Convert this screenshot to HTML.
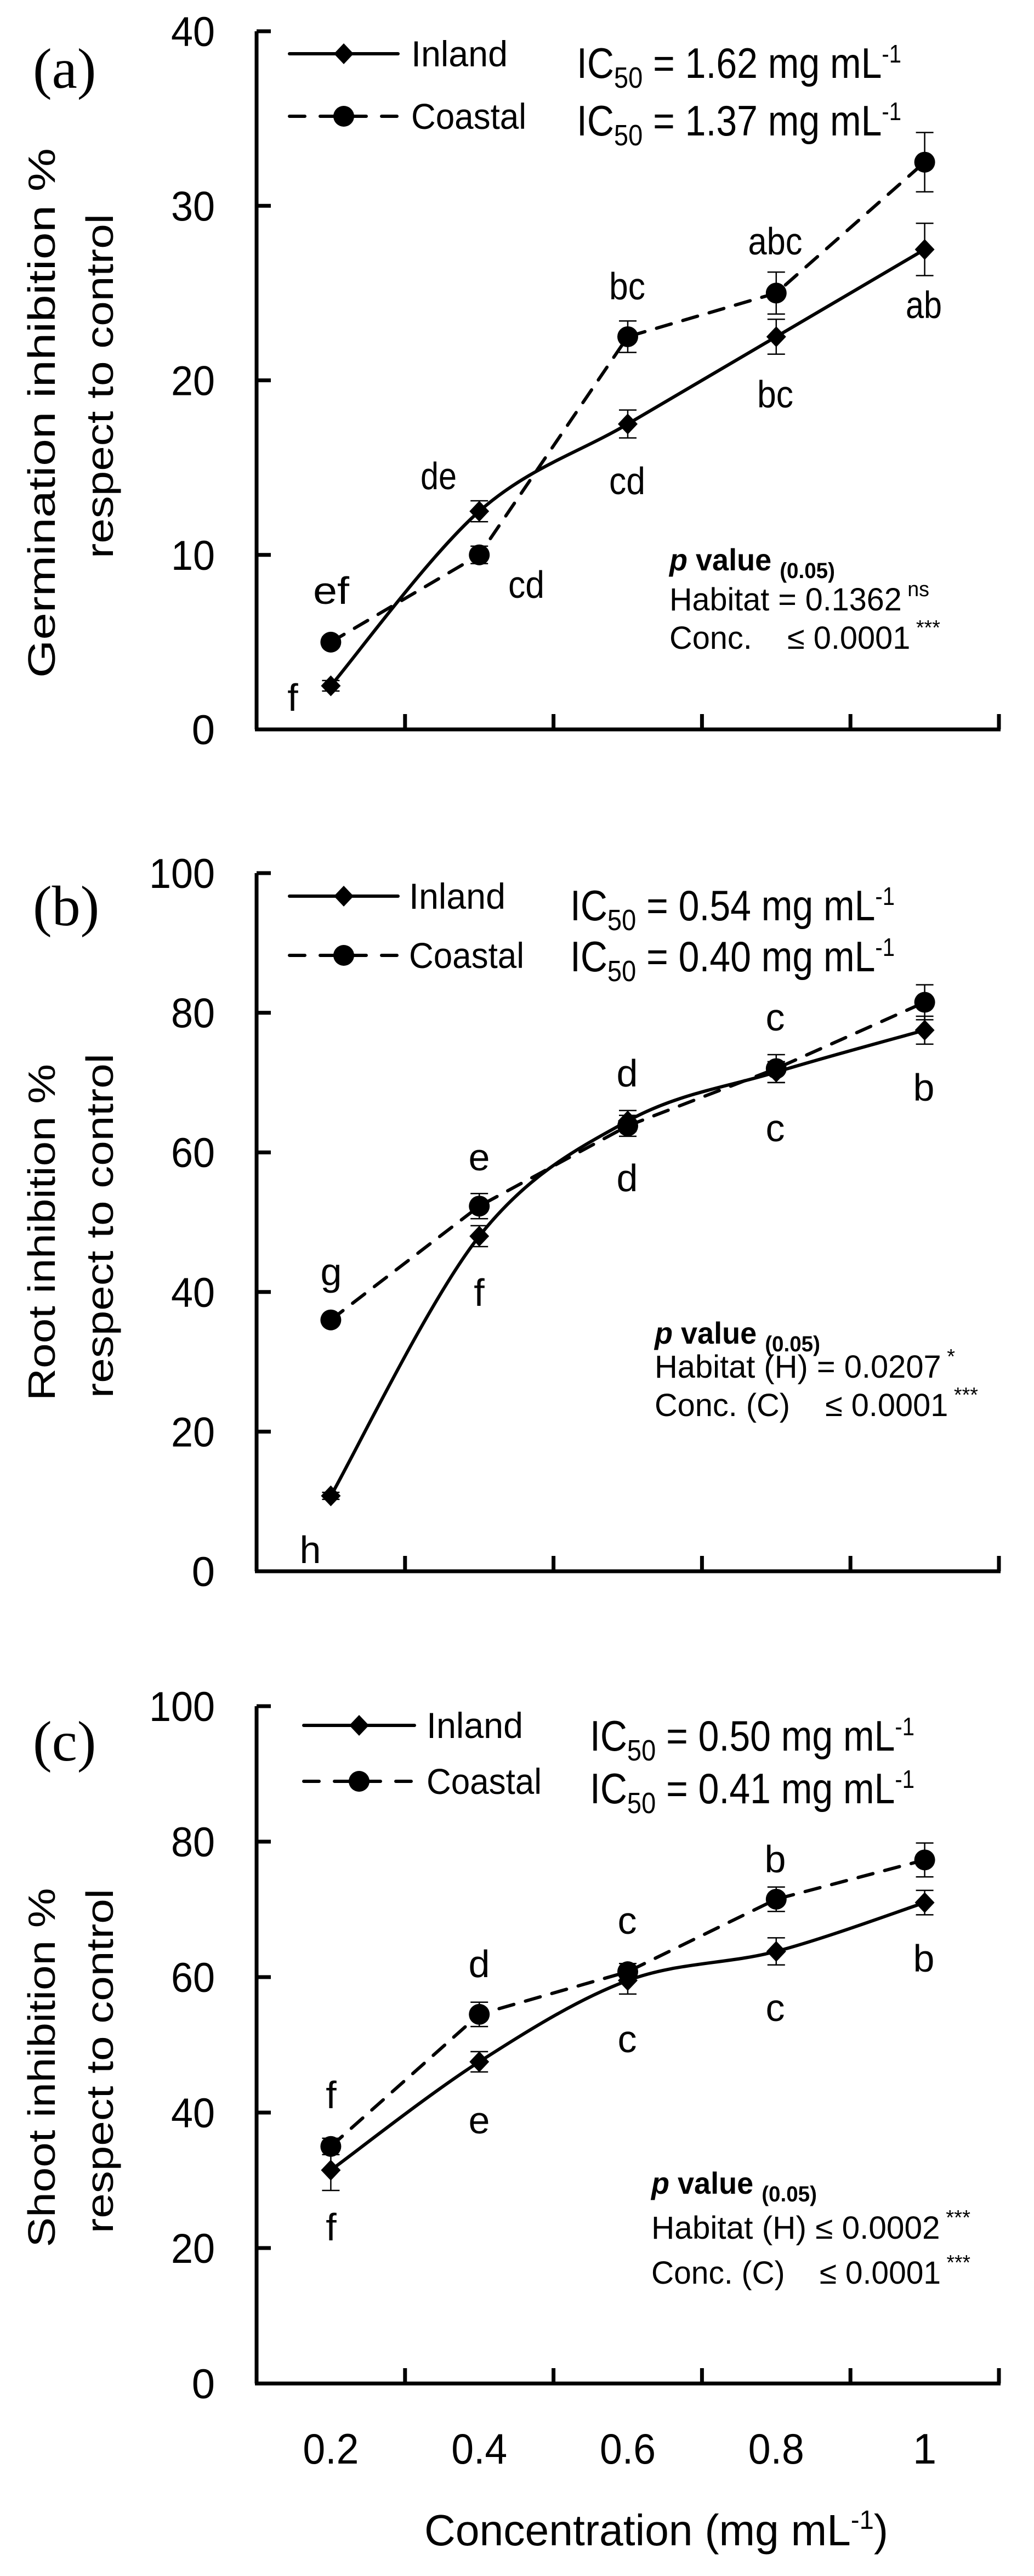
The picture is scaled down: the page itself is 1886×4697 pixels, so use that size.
<!DOCTYPE html>
<html><head><meta charset="utf-8">
<style>
html,body{margin:0;padding:0;background:#fff;}
svg{display:block;}
text{font-family:"Liberation Sans Narrow","Liberation Sans",sans-serif;fill:#000;}
.wide{font-family:"Liberation Sans",sans-serif;}
.serif{font-family:"Liberation Serif",serif;}
</style></head>
<body>
<svg id="fig" width="1886" height="4697" viewBox="0 0 1886 4697" xmlns="http://www.w3.org/2000/svg"></svg>
<script>
// ---------- data ----------
const categories = ["0.2","0.4","0.6","0.8","1"];
// Panel (a) germination
const aInland = [2.5, 12.5, 17.5, 22.5, 27.5];
const aInlandErr = [0.3, 0.6, 0.8, 1.0, 1.5];
const aCoastal = [5, 10, 22.5, 25, 32.5];
const aCoastalErr = [0.3, 0.5, 0.9, 1.2, 1.7];
const aTicks = [0, 10, 20, 30, 40];
// Panel (b) root
const bInland = [10.8, 48, 64.5, 71.5, 77.5];
const bInlandErr = [0.5, 1.5, 1.5, 1.5, 2.0];
const bCoastal = [36, 52.3, 63.8, 72, 81.5];
const bCoastalErr = [0.6, 1.8, 1.5, 2.0, 2.5];
const bTicks = [0, 20, 40, 60, 80, 100];
// Panel (c) shoot
const cInland = [31.5, 47.5, 59.5, 63.8, 71];
const cInlandErr = [3.0, 1.5, 2.0, 2.0, 1.8];
const cCoastal = [35, 54.5, 60.8, 71.5, 77.3];
const cCoastalErr = [1.2, 1.8, 1.2, 1.8, 2.5];
const cTicks = [0, 20, 40, 60, 80, 100];

const NS = "http://www.w3.org/2000/svg";
const svg = document.getElementById('fig');
function mk(tag, attrs, parent){
  const e = document.createElementNS(NS, tag);
  for (const k in attrs) e.setAttribute(k, attrs[k]);
  (parent||svg).appendChild(e);
  return e;
}
const X0 = 468, X1 = 1822;
function xScale(i){ return X0 + (X1 - X0) * (i + 0.5) / categories.length; }

function smoothPath(pts){
  let d = `M${pts[0][0]},${pts[0][1]}`;
  for (let i = 0; i < pts.length - 1; i++){
    const p0 = pts[Math.max(0,i-1)], p1 = pts[i], p2 = pts[i+1], p3 = pts[Math.min(pts.length-1,i+2)];
    const t = 1/6;
    const c1 = [p1[0] + (p2[0]-p0[0])*t, p1[1] + (p2[1]-p0[1])*t];
    const c2 = [p2[0] - (p3[0]-p1[0])*t, p2[1] - (p3[1]-p1[1])*t];
    d += ` C${c1[0]},${c1[1]} ${c2[0]},${c2[1]} ${p2[0]},${p2[1]}`;
  }
  return d;
}
function straightPath(pts){
  return pts.map((p,i)=>(i?'L':'M')+p[0]+','+p[1]).join(' ');
}

function panel(cfg){
  const g = mk('g', {});
  
  
  const yMax = cfg.ticks[cfg.ticks.length-1];
  const yScale = v => cfg.y0 - (cfg.y0 - cfg.yTop) * v / yMax;

  const ya = mk('line', {x1:X0, y1:yScale(yMax), x2:X0, y2:cfg.y0, stroke:'#000','stroke-width':7}, g);
  
  
  const xa = mk('line', {x1:X0-3, y1:cfg.y0, x2:X1+3, y2:cfg.y0, stroke:'#000','stroke-width':7}, g);
  
  
  cfg.ticks.forEach(t => {
    const y = yScale(t);
    mk('line', {x1:X0, y1:y, x2:X0+26, y2:y, stroke:'#000','stroke-width':7}, g);
    const tl = mk('text', {x:392, y:y+27, 'text-anchor':'end','font-size':76}, g);
    if (String(t).length > 1) { tl.setAttribute('textLength', String(t).length*40); tl.setAttribute('lengthAdjust','spacingAndGlyphs'); }
    tl.textContent = t;
    
    
  });
  for (let i = 0; i <= categories.length; i++){
    const x = X0 + (X1-X0)*i/categories.length;
    mk('line', {x1:x, y1:cfg.y0, x2:x, y2:cfg.y0-28, stroke:'#000','stroke-width':7}, g);
  }

  const series = [
    {name:'inland', v:cfg.inland, e:cfg.inlandErr, dash:null, marker:'diamond', smooth:true},
    {name:'coastal', v:cfg.coastal, e:cfg.coastalErr, dash:'28 22', marker:'circle', smooth:false}
  ];
  series.forEach(s => {
    const pts = s.v.map((v,i) => [xScale(i), yScale(v)]);
    const p = mk('path', {d:s.smooth?smoothPath(pts):straightPath(pts), fill:'none', stroke:'#000','stroke-width':6,'stroke-linecap':'round','stroke-linejoin':'round'}, g);
    if (s.dash) p.setAttribute('stroke-dasharray', s.dash);
    
    
    s.v.forEach((v,i) => {
      const x = xScale(i), y = yScale(v), yh = yScale(v + s.e[i]), yl = yScale(v - s.e[i]);
      const eb = mk('path', {d:`M${x},${yh}V${yl}M${x-16},${yh}H${x+16}M${x-16},${yl}H${x+16}`, stroke:'#000','stroke-width':2.5, fill:'none'}, g);
      
      
      let m;
      if (s.marker === 'circle') m = mk('circle', {cx:x, cy:y, r:19}, g);
      else m = mk('path', {d:`M${x},${y-19}L${x+18},${y}L${x},${y+19}L${x-18},${y}Z`}, g);
      
      
    });
  });

  cfg.letters.forEach(L => {
    const t = mk('text', {x:L[1], y:L[2], 'text-anchor':'middle','font-size':70}, g);
    if (L[0].length > 1) { t.setAttribute('textLength', L[0].length*33); t.setAttribute('lengthAdjust','spacingAndGlyphs'); }
    t.textContent = L[0];
    
    
  });

  const lg = mk('g', {}, g);
  
  
  const L = cfg.legend;
  mk('line', {x1:L.x1, y1:L.yi, x2:L.x2, y2:L.yi, stroke:'#000','stroke-width':6,'stroke-linecap':'round'}, lg);
  const lx = (L.x1+L.x2)/2;
  mk('path', {d:`M${lx},${L.yi-19}L${lx+18},${L.yi}L${lx},${L.yi+19}L${lx-18},${L.yi}Z`}, lg);
  mk('line', {x1:L.x1, y1:L.yc, x2:L.x2, y2:L.yc, stroke:'#000','stroke-width':6,'stroke-linecap':'round','stroke-dasharray':'28 28'}, lg);
  mk('circle', {cx:lx, cy:L.yc, r:19}, lg);
  const t1 = mk('text', {x:L.tx, y:L.yi+23, 'font-size':66, textLength:176, lengthAdjust:'spacingAndGlyphs'}, lg);
  t1.textContent = 'Inland';
  
  
  const t2 = mk('text', {x:L.tx, y:L.yc+23, 'font-size':66, textLength:210, lengthAdjust:'spacingAndGlyphs'}, lg);
  t2.textContent = 'Coastal';
  
  

  cfg.ic.forEach((ic, k) => {
    const t = mk('text', {x:cfg.icx, y:cfg.icy[k], 'font-size':78, textLength:592, lengthAdjust:'spacingAndGlyphs'}, g);
    t.innerHTML = `IC<tspan font-size="54" dy="18">50</tspan><tspan dy="-18"> = ${ic} mg mL</tspan><tspan font-size="46" dy="-28">-1</tspan>`;
    
    
  });

  const pv = cfg.pval;
  const p1 = mk('text', {x:pv.x, y:pv.y[0], 'font-size':56,'font-weight':'bold', textLength:302, lengthAdjust:'spacingAndGlyphs'}, g);
  p1.innerHTML = `<tspan font-style="italic">p</tspan> value <tspan font-size="40" dy="14">(0.05)</tspan>`;
  
  
  pv.lines.forEach((ln, k) => {
    const t = mk('text', {x:pv.x, y:pv.y[k+1], 'font-size':58, textLength:ln[2], lengthAdjust:'spacingAndGlyphs'}, g);
    t.innerHTML = `${ln[0]}<tspan font-size="38" dy="-26"> ${ln[1]}</tspan>`;
    
    
  });

  const yt1 = mk('text', {x:0, y:0, 'text-anchor':'middle','font-size':70, class:'wide', transform:`translate(${cfg.yt[0]},${cfg.yt[2]}) rotate(-90)`, textLength:cfg.yt[3], lengthAdjust:'spacingAndGlyphs'}, g);
  yt1.setAttribute('xml:space','preserve');
  yt1.textContent = cfg.ytitle;
  
  
  const yt2 = mk('text', {x:0, y:0, 'text-anchor':'middle','font-size':70, class:'wide', transform:`translate(${cfg.yt[1]},${cfg.yt[4]}) rotate(-90)`, textLength:628, lengthAdjust:'spacingAndGlyphs'}, g);
  yt2.textContent = 'respect to control';
  
  

  const pl = mk('text', {x:60, y:cfg.labelY, 'font-size':104, class:'serif'}, g);
  pl.textContent = cfg.label;
  
  
}

panel({name:'panel-a-germination', y0:1330, yTop:57, ticks:aTicks,
  inland:aInland, inlandErr:aInlandErr, coastal:aCoastal, coastalErr:aCoastalErr,
  letters:[['f',534,1296],['de',800,892],['cd',1144,901],['bc',1414,743],['ab',1685,580],
           ['ef',604,1101],['cd',960,1090],['bc',1144,546],['abc',1414,464]],
  legend:{x1:528,x2:726,tx:750,yi:98,yc:212},
  ic:['1.62','1.37'], icx:1052, icy:[142,247],
  pval:{x:1221,y:[1040,1113,1183],lines:[['Habitat = 0.1362','ns',474],['Conc. \u00a0\u00a0\u00a0≤ 0.0001','***',494]]},
  ytitle:'Germination  inhibition %', yt:[100,206,753,966,704],
  label:'(a)', labelY:160});

panel({name:'panel-b-root', y0:2865, yTop:1592, ticks:bTicks,
  inland:bInland, inlandErr:bInlandErr, coastal:bCoastal, coastalErr:bCoastalErr,
  letters:[['g',604,2343],['e',874,2134],['f',874,2381],['d',1144,1981],['d',1144,2172],
           ['c',1414,1879],['c',1414,2081],['b',1685,2007],['h',566,2850]],
  legend:{x1:528,x2:726,tx:746,yi:1634,yc:1742},
  ic:['0.54','0.40'], icx:1040, icy:[1678,1771],
  pval:{x:1194,y:[2450,2512,2582],lines:[['Habitat (H) = 0.0207','*',548],['Conc. (C) \u00a0\u00a0\u00a0≤ 0.0001','***',590]]},
  ytitle:'Root  inhibition %', yt:[100,206,2247,614,2235],
  label:'(b)', labelY:1687});

panel({name:'panel-c-shoot', y0:4346, yTop:3111, ticks:cTicks,
  inland:cInland, inlandErr:cInlandErr, coastal:cCoastal, coastalErr:cCoastalErr,
  letters:[['f',604,3844],['f',604,4085],['d',874,3605],['e',874,3890],['c',1144,3526],['c',1144,3742],
           ['b',1414,3414],['c',1414,3685],['b',1685,3595]],
  legend:{x1:554,x2:756,tx:778,yi:3146,yc:3248},
  ic:['0.50','0.41'], icx:1076, icy:[3192,3288],
  pval:{x:1188,y:[4000,4082,4164],lines:[['Habitat (H) ≤ 0.0002','***',582],['Conc. (C) \u00a0\u00a0\u00a0≤ 0.0001','***',582]]},
  ytitle:'Shoot  inhibition %', yt:[100,206,3770,655,3758],
  label:'(c)', labelY:3210});

categories.forEach((c,i) => {
  const t = mk('text', {x:xScale(i), y:4492, 'text-anchor':'middle','font-size':78});
  if (c.length > 1) { t.setAttribute('textLength', 102); t.setAttribute('lengthAdjust','spacingAndGlyphs'); }
  t.textContent = c;
  
  
});
const xt = mk('text', {x:774, y:4641, 'font-size':80, textLength:846, lengthAdjust:'spacingAndGlyphs'});
xt.innerHTML = 'Concentration (mg mL<tspan font-size="48" dy="-30">-1</tspan><tspan dy="30">)</tspan>';


</script>
</body></html>
